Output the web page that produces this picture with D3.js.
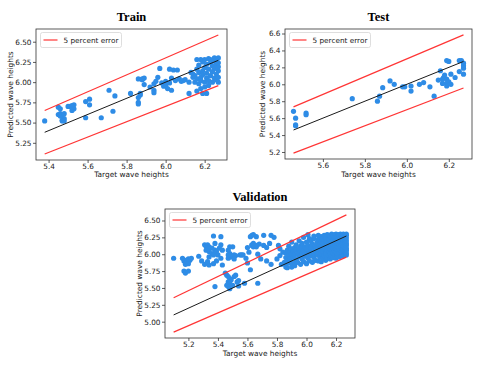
<!DOCTYPE html>
<html>
<head>
<meta charset="utf-8">
<script src="https://cdn.jsdelivr.net/npm/d3@7"></script>
<style>
body { margin: 0; background: #fff; }
text { font-family: "DejaVu Sans", sans-serif; fill: #222; }
.title { font-family: "Liberation Serif", serif; font-weight: bold; font-size: 12.5px; fill: #000; }
</style>
</head>
<body>
<div class="chart"></div>
<script>
// [target, predicted] pairs
const trainPoints = [
  [5.38,5.52],[5.45,5.69],[5.46,5.67],[5.45,5.60],[5.46,5.61],[5.47,5.60],[5.47,5.53],[5.48,5.55],
  [5.47,5.52],[5.48,5.52],[5.46,5.58],[5.48,5.61],[5.50,5.70],[5.51,5.70],[5.52,5.71],[5.53,5.72],
  [5.52,5.65],[5.53,5.67],[5.52,5.69],[5.59,5.56],[5.59,5.76],[5.61,5.79],[5.61,5.72],[5.67,5.56],
  [5.71,5.90],[5.73,5.64],[5.74,5.83],[5.82,5.86],[5.86,6.04],[5.86,5.81],[5.86,5.75],[5.86,5.73],
  [5.87,5.84],[5.87,5.86],[5.88,6.03],[5.89,6.05],[5.89,5.97],[5.88,6.04],[5.92,5.94],[5.94,5.90],
  [5.94,5.87],[5.94,5.98],[5.95,6.01],[5.96,6.06],[5.97,6.17],[5.98,5.99],[5.99,5.95],[6.00,5.96],
  [6.00,6.01],[6.01,5.92],[6.02,6.16],[6.02,5.99],[6.03,6.05],[6.03,5.90],[6.04,6.15],[6.05,6.02],
  [6.06,6.15],[6.07,6.04],[6.08,6.01],[6.09,6.02],[6.10,6.03],[6.12,5.86],[6.12,6.00],[6.13,6.12],
  [6.14,6.06],[6.14,6.10],[6.15,6.00],[6.15,6.08],[6.16,6.28],[6.16,6.16],[6.16,5.89],[6.16,6.04],
  [6.17,6.12],[6.17,5.98],[6.17,6.21],[6.18,6.28],[6.18,6.06],[6.18,6.02],[6.18,5.92],[6.19,6.14],
  [6.19,5.86],[6.19,6.09],[6.19,6.25],[6.20,6.00],[6.20,6.18],[6.20,5.94],[6.20,6.28],[6.21,6.05],
  [6.21,5.86],[6.21,6.11],[6.21,6.22],[6.22,6.29],[6.22,6.02],[6.22,6.16],[6.22,5.96],[6.23,6.08],
  [6.23,6.24],[6.23,6.28],[6.24,6.13],[6.24,6.00],[6.24,6.20],[6.25,6.30],[6.25,6.05],[6.25,6.17],
  [6.25,6.26],[6.26,6.10],[6.26,6.22],[6.26,6.28],[6.26,6.03],[6.27,6.30],[6.27,6.14],[6.27,6.19],
  [6.27,6.24],[6.27,6.06],[6.27,6.00]
];

const testPoints = [
  [5.46,5.68],[5.47,5.60],[5.47,5.52],[5.47,5.51],[5.52,5.66],[5.52,5.64],[5.74,5.83],[5.86,5.80],
  [5.87,5.86],[5.885,5.96],[5.92,6.04],[5.94,6.00],[5.98,5.97],[5.99,5.97],[6.02,5.92],[6.02,5.98],
  [6.06,6.00],[6.08,6.02],[6.11,5.97],[6.13,5.86],[6.15,6.05],[6.16,6.16],[6.17,6.06],[6.175,6.08],
  [6.18,6.11],[6.19,6.06],[6.17,6.01],[6.19,6.01],[6.19,5.98],[6.20,6.03],[6.21,6.12],[6.21,6.00],
  [6.23,6.08],[6.19,6.28],[6.20,6.27],[6.25,6.28],[6.26,6.28],[6.27,6.25],[6.27,6.22],[6.27,6.19],
  [6.25,6.15],[6.27,6.12]
];

const valPoints = [
  // spread on the left
  [5.10,5.94],[5.16,5.94],[5.17,5.90],[5.18,5.91],[5.19,5.88],[5.20,5.93],[5.21,5.91],[5.22,5.94],
  [5.18,5.85],[5.17,5.75],[5.18,5.72],[5.20,5.75],[5.20,5.86],[5.27,5.97],[5.29,5.90],[5.31,5.85],
  [5.31,6.14],[5.32,6.12],[5.33,6.14],[5.34,6.11],[5.36,6.09],[5.33,6.09],[5.32,6.06],[5.34,6.04],
  [5.36,6.01],[5.37,5.99],[5.34,5.96],[5.38,6.06],[5.39,6.04],[5.40,5.99],[5.38,6.16],[5.37,6.27],
  [5.42,6.26],[5.42,6.14],[5.41,6.09],[5.43,6.06],[5.42,5.94],[5.39,5.90],[5.37,5.86],[5.34,5.84],
  [5.33,5.89],[5.48,6.11],[5.47,6.06],[5.48,6.01],[5.49,5.96],[5.50,5.97],[5.50,6.11],[5.51,5.99],
  [5.47,5.94],[5.47,5.99],[5.43,5.84],[5.56,5.99],[5.59,5.94],[5.60,5.87],[5.62,5.77],[5.63,6.14],
  [5.64,6.11],[5.62,6.26],[5.66,6.11],[5.64,6.16],[5.52,5.98],[5.55,5.99],[5.57,5.99],[5.51,5.93],
  // lower group
  [5.46,5.69],[5.47,5.67],[5.48,5.64],[5.49,5.62],[5.47,5.59],[5.48,5.57],[5.46,5.54],[5.47,5.52],
  [5.49,5.53],[5.48,5.49],[5.50,5.54],[5.51,5.67],[5.52,5.69],[5.53,5.59],[5.54,5.61],[5.54,5.53],
  [5.38,5.52],[5.45,5.72],[5.58,5.57],[5.67,5.57],
  // middle
  [5.63,6.28],[5.64,6.29],[5.66,6.26],[5.71,6.28],[5.76,6.28],[5.78,6.25],[5.75,6.16],[5.73,6.10],
  [5.71,6.13],[5.68,6.15],[5.66,6.13],[5.63,6.13],[5.60,6.10],[5.61,6.03],[5.67,6.00],[5.69,5.93],
  [5.73,5.90],[5.76,5.85],[5.80,5.93],[5.82,5.98],[5.84,6.03],[5.82,6.08],[5.81,6.13],[5.83,5.85],
  [5.85,5.88],[5.86,5.81],[5.90,5.81],[5.91,5.86],[5.93,5.90],[5.97,6.10],[5.98,6.25],[6.01,6.29],
  [6.02,6.23],
  // dense group on the right
  [5.86,5.84],[5.86,5.95],[5.86,6.02],[5.87,5.90],[5.87,6.06],[5.87,5.80],[5.88,5.98],[5.88,6.12],
  [5.88,5.87],[5.89,5.93],[5.89,6.03],[5.90,5.86],[5.90,6.00],[5.90,6.08],[5.90,6.18],[5.91,5.95],
  [5.91,6.04],[5.92,5.83],[5.92,5.99],[5.92,6.10],[5.93,5.92],[5.93,6.06],[5.93,6.14],[5.94,5.88],
  [5.94,6.01],[5.95,5.96],[5.95,6.08],[5.95,6.20],[5.96,5.85],[5.96,6.03],[5.96,6.12],[5.97,5.93],
  [5.97,6.00],[5.97,6.16],[5.98,5.89],[5.98,6.06],[5.99,5.97],[5.99,6.11],[6.00,5.86],[6.00,6.02],
  [6.00,6.08],[6.00,6.18],[6.01,5.94],[6.01,6.13],[6.02,5.90],[6.02,6.00],[6.02,6.06],[6.03,5.98],
  [6.03,6.10],[6.03,6.20],[6.04,5.88],[6.04,6.04],[6.04,6.15],[6.05,5.95],[6.05,6.01],[6.05,6.23],
  [6.05,6.27],[6.06,5.91],[6.06,6.08],[6.06,6.12],[6.07,5.99],[6.07,6.05],[6.07,6.17],[6.08,5.90],
  [6.08,6.02],[6.08,6.10],[6.08,6.22],[6.08,6.28],[6.09,5.96],[6.09,6.07],[6.09,6.14],[6.10,5.89],
  [6.10,6.00],[6.10,6.11],[6.10,6.19],[6.10,6.26],[6.11,5.94],[6.11,6.04],[6.11,6.16],[6.11,6.23],
  [6.12,5.98],[6.12,6.08],[6.12,6.13],[6.12,6.21],[6.12,6.28],[6.13,5.91],[6.13,6.02],[6.13,6.10],
  [6.13,6.18],[6.13,6.25],[6.14,5.95],[6.14,6.06],[6.14,6.14],[6.14,6.20],[6.14,6.29],[6.15,5.99],
  [6.15,6.04],[6.15,6.11],[6.15,6.17],[6.15,6.24],[6.15,6.28],[6.16,5.93],[6.16,6.01],[6.16,6.08],
  [6.16,6.15],[6.16,6.22],[6.16,6.27],[6.17,5.97],[6.17,6.05],[6.17,6.12],[6.17,6.19],[6.17,6.25],
  [6.17,6.30],[6.18,5.95],[6.18,6.02],[6.18,6.09],[6.18,6.14],[6.18,6.21],[6.18,6.28],[6.19,5.99],
  [6.19,6.06],[6.19,6.11],[6.19,6.17],[6.19,6.23],[6.19,6.29],[6.20,5.94],[6.20,6.03],[6.20,6.08],
  [6.20,6.13],[6.20,6.19],[6.20,6.26],[6.20,6.30],[6.21,5.97],[6.21,6.01],[6.21,6.07],[6.21,6.12],
  [6.21,6.16],[6.21,6.22],[6.21,6.27],[6.22,5.96],[6.22,6.04],[6.22,6.10],[6.22,6.15],[6.22,6.20],
  [6.22,6.25],[6.22,6.29],[6.23,5.99],[6.23,6.02],[6.23,6.06],[6.23,6.11],[6.23,6.18],[6.23,6.24],
  [6.23,6.30],[6.24,5.97],[6.24,6.03],[6.24,6.09],[6.24,6.14],[6.24,6.19],[6.24,6.23],[6.24,6.28],
  [6.25,5.98],[6.25,6.05],[6.25,6.08],[6.25,6.12],[6.25,6.17],[6.25,6.21],[6.25,6.26],[6.25,6.30],
  [6.26,6.00],[6.26,6.04],[6.26,6.10],[6.26,6.15],[6.26,6.18],[6.26,6.22],[6.26,6.27],[6.26,6.29],
  [6.27,5.99],[6.27,6.02],[6.27,6.06],[6.27,6.09],[6.27,6.13],[6.27,6.16],[6.27,6.20],[6.27,6.24],
  [6.27,6.28],[6.27,6.30]
];

const trainXTicks = [5.4, 5.6, 5.8, 6.0, 6.2];
const trainYTicks = [5.25, 5.5, 5.75, 6.0, 6.25, 6.5];
const testXTicks = [5.6, 5.8, 6.0, 6.2];
const testYTicks = [5.2, 5.4, 5.6, 5.8, 6.0, 6.2, 6.4, 6.6];
const valXTicks = [5.2, 5.4, 5.6, 5.8, 6.0, 6.2];
const valYTicks = [5.0, 5.25, 5.5, 5.75, 6.0, 6.25, 6.5];

const errorPct = 0.05;
const legendLabel = "5 percent error";

const width = 490;
const height = 368;

const svg = d3.select(".chart")
  .append("svg")
  .attr("width", width)
  .attr("height", height);

function drawPanel(p) {
  const g = svg.append("g").attr("transform", `translate(${p.left},${p.top})`);

  // matplotlib style: data extent plus 5% margins
  const xExt = d3.extent(p.points, d => d[0]);
  const xr = xExt[1] - xExt[0];
  const x = d3.scaleLinear()
    .domain([xExt[0] - 0.05 * xr, xExt[1] + 0.05 * xr])
    .range([0, p.w]);

  const yLo = Math.min(xExt[0] * (1 - errorPct), d3.min(p.points, d => d[1]));
  const yHi = Math.max(xExt[1] * (1 + errorPct), d3.max(p.points, d => d[1]));
  const yr = yHi - yLo;
  const y = d3.scaleLinear()
    .domain([yLo - 0.05 * yr, yHi + 0.05 * yr])
    .range([p.h, 0]);

  // scatter
  g.append("g")
    .selectAll("circle")
    .data(p.points)
    .enter()
    .append("circle")
    .attr("cx", d => x(d[0]))
    .attr("cy", d => y(d[1]))
    .attr("r", 2.6)
    .style("fill", "#2e8ce6");

  // identity and +/- 5 percent lines
  const lines = [
    {k: 1 + errorPct, color: "#ff3535", w: 1.2},
    {k: 1 - errorPct, color: "#ff3535", w: 1.2},
    {k: 1, color: "#1a1a1a", w: 1}
  ];
  const line = d3.line().x(d => x(d[0])).y(d => y(d[1]));
  lines.forEach(l => {
    g.append("path")
      .attr("d", line([[xExt[0], xExt[0] * l.k], [xExt[1], xExt[1] * l.k]]))
      .style("fill", "none")
      .style("stroke", l.color)
      .style("stroke-width", l.w);
  });

  // axes
  const xAxis = g.append("g")
    .attr("transform", `translate(0,${p.h})`)
    .call(d3.axisBottom(x).tickValues(p.xTicks).tickFormat(d3.format(".1f")).tickSize(3).tickPadding(0.6));
  const yAxis = g.append("g")
    .call(d3.axisLeft(y).tickValues(p.yTicks).tickFormat(d3.format(p.yFmt)).tickSize(3).tickPadding(1.5));
  [xAxis, yAxis].forEach(a => {
    a.select(".domain").remove();
    a.selectAll("line").style("stroke", "#333").style("stroke-width", 0.8);
    a.selectAll("text").style("font-size", "7.3px").style("fill", "#222")
      .style("font-family", "DejaVu Sans, sans-serif");
  });

  // frame
  g.append("rect")
    .attr("width", p.w)
    .attr("height", p.h)
    .style("fill", "none")
    .style("stroke", "#333")
    .style("stroke-width", 0.8);

  // legend
  const lg = g.append("g").attr("transform", "translate(4.5,3.5)");
  lg.append("rect")
    .attr("width", 81)
    .attr("height", 15)
    .attr("rx", 2)
    .style("fill", "#fff")
    .style("fill-opacity", 0.8)
    .style("stroke", "#d6d6d6")
    .style("stroke-width", 0.8);
  lg.append("line")
    .attr("x1", 3).attr("x2", 17)
    .attr("y1", 7.5).attr("y2", 7.5)
    .style("stroke", "#ff3535")
    .style("stroke-width", 1.2);
  lg.append("text")
    .attr("x", 23)
    .attr("y", 10.2)
    .style("font-size", "7.3px")
    .text(legendLabel);

  // titles and labels
  g.append("text")
    .attr("class", "title")
    .attr("x", p.w / 2)
    .attr("y", -8.5)
    .attr("text-anchor", "middle")
    .text(p.title);
  g.append("text")
    .attr("x", p.w / 2)
    .attr("y", p.h + p.xLabelOff)
    .attr("text-anchor", "middle")
    .style("font-size", "7.4px")
    .text("Target wave heights");
  g.append("text")
    .attr("transform", `translate(${-p.yLabelOff},${p.h / 2}) rotate(-90)`)
    .attr("text-anchor", "middle")
    .style("font-size", "7.4px")
    .text("Predicted wave heights");
}

drawPanel({title: "Train", points: trainPoints, left: 36, top: 29, w: 191, h: 131,
  xTicks: trainXTicks, yTicks: trainYTicks, yFmt: ".2f", yLabelOff: 23, xLabelOff: 17.2});
drawPanel({title: "Test", points: testPoints, left: 285, top: 29, w: 187, h: 130,
  xTicks: testXTicks, yTicks: testYTicks, yFmt: ".1f", yLabelOff: 20.5, xLabelOff: 17.6});
drawPanel({title: "Validation", points: valPoints, left: 165, top: 209, w: 190, h: 129,
  xTicks: valXTicks, yTicks: valYTicks, yFmt: ".2f", yLabelOff: 23, xLabelOff: 18});
</script>
</body>
</html>
